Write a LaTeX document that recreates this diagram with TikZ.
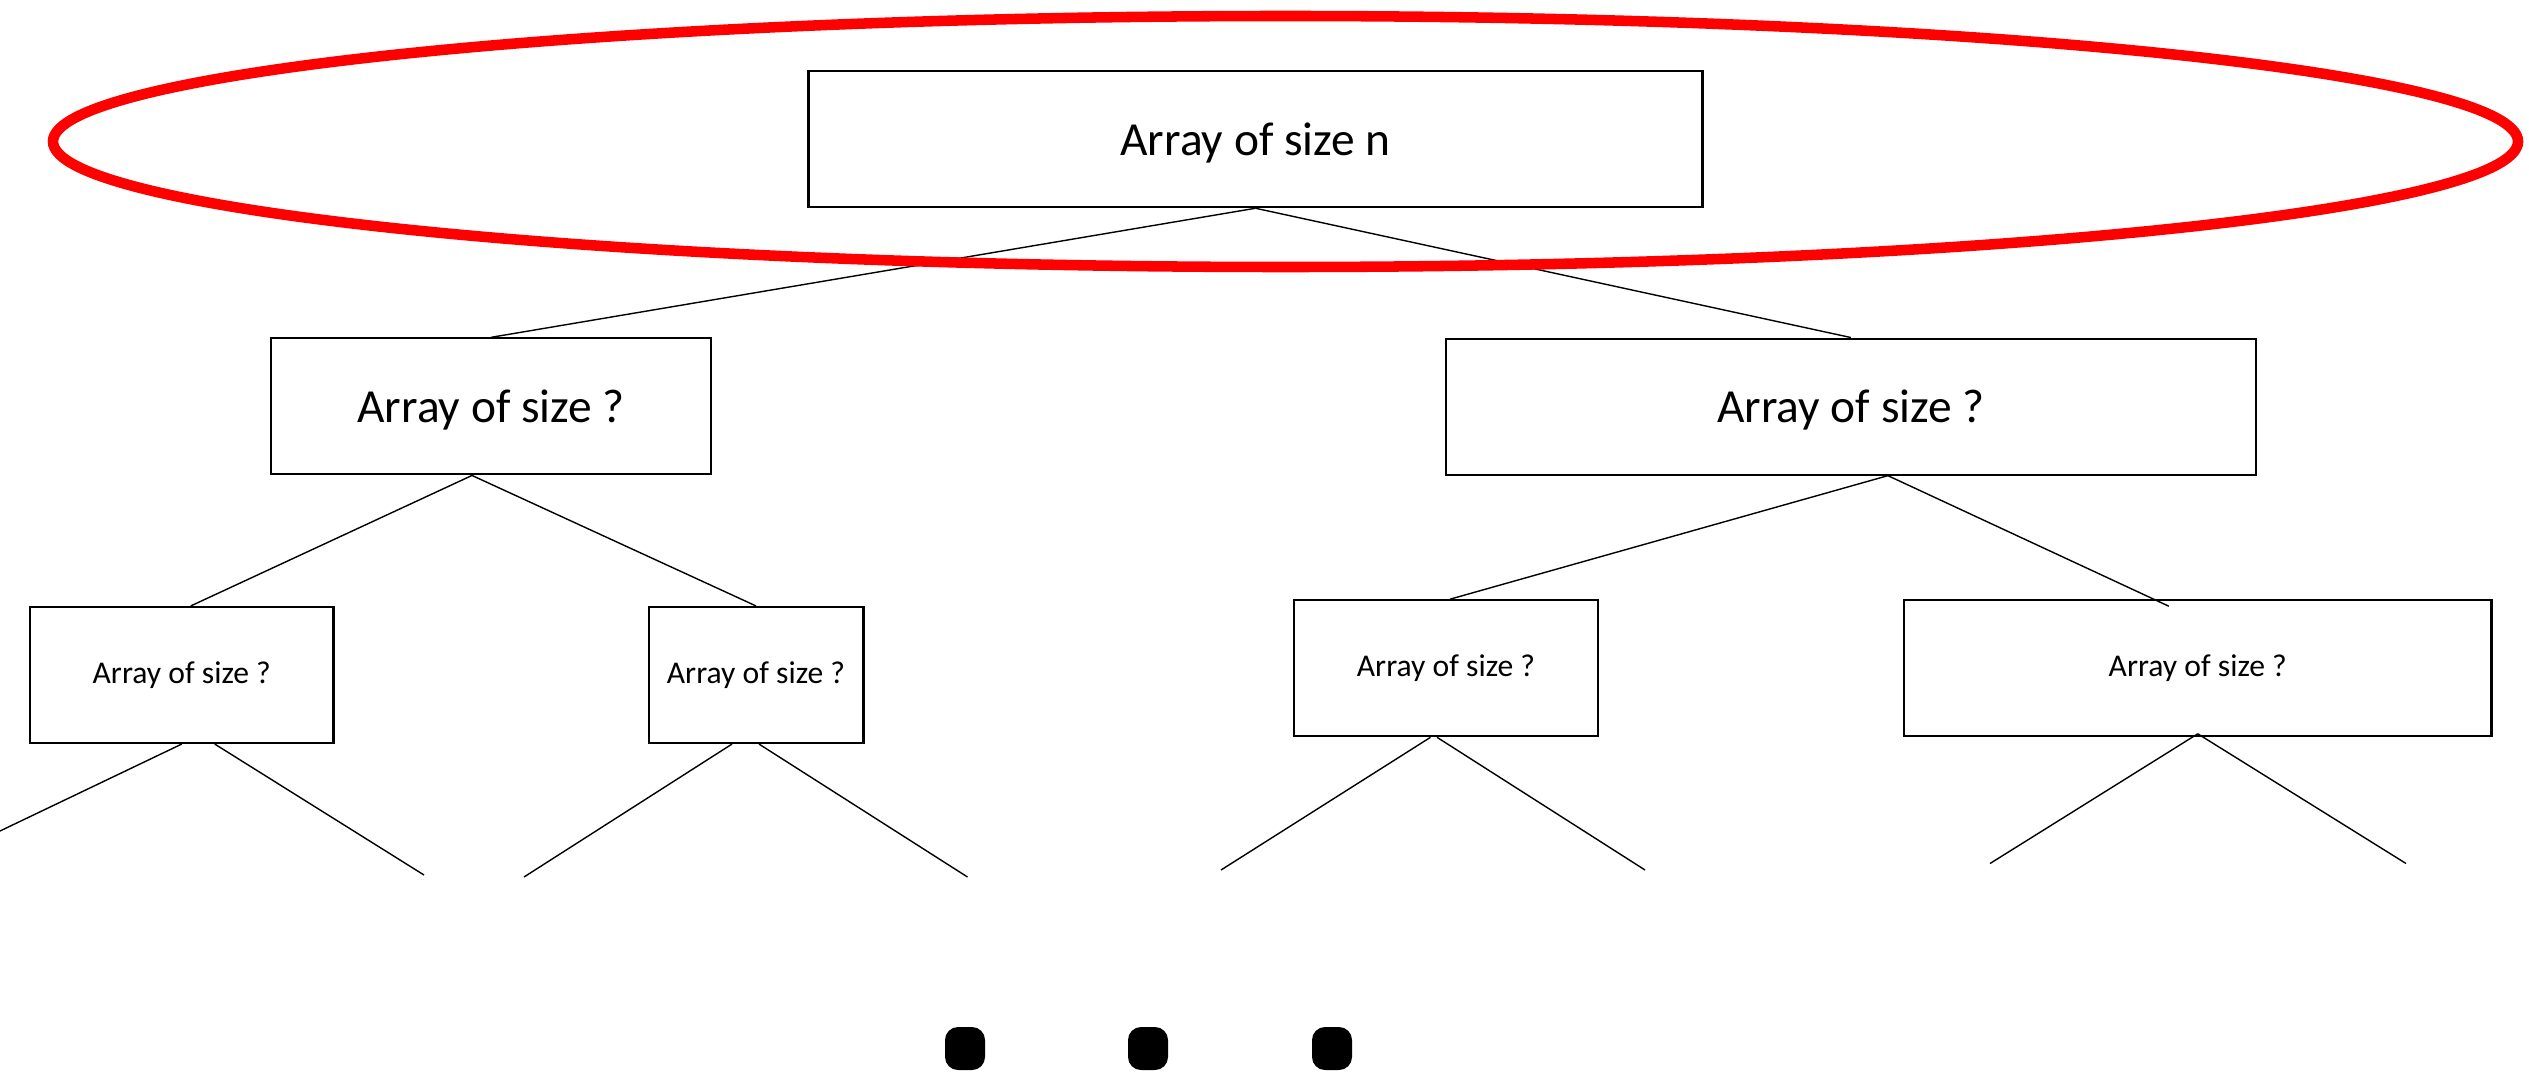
\documentclass[tikz,border=0pt]{standalone}
\usepackage{fontspec}
\setmainfont{Carlito}

\begin{document}
\begin{tikzpicture}[
    box/.style={draw, line width=0.6pt, minimum height=1.36cm, inner sep=0pt},
    bigbox/.style={box, text depth=0pt, font=\fontsize{13.5}{16}\selectfont},
    smallbox/.style={box, font=\fontsize{9}{11}\selectfont},
    branch/.style={line width=0.4pt},
    dotmark/.style={fill=black, rounded corners=0.13cm, minimum width=0.40cm, minimum height=0.43cm, inner sep=0pt}
]

    % Page frame
    \useasboundingbox (0,0) rectangle (25.29,-10.71);

    % Root block
    \node[bigbox, minimum width=8.94cm] (root) at (12.555,-1.392) {Array of size n};

    % Second level
    \node[bigbox, minimum width=4.40cm] (l2l) at (4.91,-4.064) {Array of size ?};
    \node[bigbox, minimum width=8.10cm] (l2r) at (18.509,-4.066) {Array of size ?};

    % Third level
    \node[smallbox, minimum width=3.035cm] (ll) at (1.8175,-6.75) {Array of size ?};
    \node[smallbox, minimum width=2.149cm] (lr) at (7.56,-6.75) {Array of size ?};
    \node[smallbox, minimum width=3.04cm] (rl) at (14.46,-6.6825) {Array of size ?};
    \node[smallbox, minimum width=5.875cm] (rr) at (21.9775,-6.6825) {Array of size ?};

    % Branch points under the second level
    \coordinate (l2l-j) at ([xshift=-0.19cm]l2l.south);
    \coordinate (l2r-j) at ([xshift=0.37cm]l2r.south);

    % Loose ends below the third level
    \coordinate (leaf1) at (0,-8.31);
    \coordinate (leaf2) at (4.24,-8.75);
    \coordinate (leaf3) at (5.24,-8.77);
    \coordinate (leaf4) at (9.675,-8.77);
    \coordinate (leaf5) at (12.21,-8.70);
    \coordinate (leaf6) at (16.45,-8.70);
    \coordinate (leaf7) at (19.90,-8.635);
    \coordinate (leaf8) at (24.06,-8.635);

    % Root to second level
    \draw[branch] (root.south) -- (l2l.north);
    \draw[branch] (root.south) -- (l2r.north);

    % Second level to third level
    \draw[branch] (l2l-j) -- ([xshift=0.09cm]ll.north);
    \draw[branch] (l2l-j) -- (lr.north);
    \draw[branch] (l2r-j) -- ([xshift=0.04cm]rl.north);
    \draw[branch] (l2r-j) -- ([xshift=-0.29cm,yshift=-0.07cm]rr.north);

    % Third level to the loose ends
    \draw[branch] (ll.south) -- (leaf1);
    \draw[branch] ([xshift=0.33cm]ll.south) -- (leaf2);
    \draw[branch] ([xshift=-0.24cm]lr.south) -- (leaf3);
    \draw[branch] ([xshift=0.03cm]lr.south) -- (leaf4);
    \draw[branch] ([xshift=-0.155cm]rl.south) -- (leaf5);
    \draw[branch] ([xshift=-0.09cm]rl.south) -- (leaf6);
    \draw[branch] ([yshift=0.035cm]rr.south) -- (leaf7);
    \draw[branch] ([yshift=0.035cm]rr.south) -- (leaf8);

    % Red ring round the top level
    \draw[red, line width=3pt] (12.855,-1.415) ellipse (12.325cm and 1.255cm);

    % Three dots at the bottom
    \node[dotmark] (dot1) at (9.65,-10.485) {};
    \node[dotmark] (dot2) at (11.48,-10.485) {};
    \node[dotmark] (dot3) at (13.32,-10.485) {};

\end{tikzpicture}
\end{document}
